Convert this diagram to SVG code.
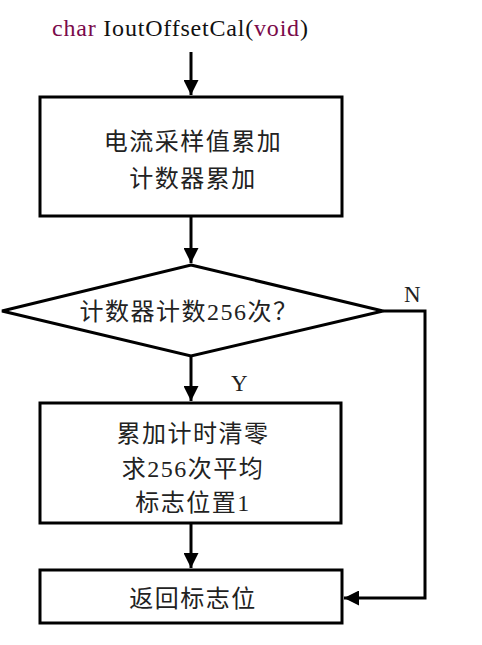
<svg xmlns="http://www.w3.org/2000/svg" width="482" height="645" viewBox="0 0 482 645">
<style>
.box{fill:#fff;stroke:#000;stroke-width:3}
.ln{fill:none;stroke:#000;stroke-width:3}
.t{font-family:"Liberation Serif","Noto Sans CJK SC",serif;font-size:24px;letter-spacing:1.5px;fill:#222;text-anchor:middle}
.lab{font-family:"Liberation Serif",serif;font-size:23px;fill:#222}
.kw{fill:#7a0a4a}
</style>
<defs>
<marker id="ah" viewBox="0 0 10 10" refX="10" refY="5" markerWidth="5" markerHeight="5" orient="auto" markerUnits="strokeWidth">
<path d="M0,0 L10,5 L0,10 z" fill="#000"/>
</marker>
</defs>
<rect width="482" height="645" fill="#fff"/>
<text x="52" y="36" font-family="Liberation Serif,serif" font-size="24" letter-spacing="0.8" fill="#111"><tspan class="kw">char</tspan> IoutOffsetCal(<tspan class="kw">void</tspan>)</text>
<g id="connectors">
<line class="ln" x1="191" y1="52" x2="191" y2="95" marker-end="url(#ah)"/>
<line class="ln" x1="191" y1="216" x2="191" y2="263" marker-end="url(#ah)"/>
<line class="ln" x1="191" y1="356" x2="191" y2="401" marker-end="url(#ah)"/>
<line class="ln" x1="191" y1="523" x2="191" y2="568" marker-end="url(#ah)"/>
<polyline class="ln" points="383,311 425,311 425,598 344,598" marker-end="url(#ah)"/>
<text class="lab" x="404" y="302">N</text>
<text class="lab" x="231" y="391">Y</text>
</g>
<g id="n1">
<rect class="box" x="40" y="97" width="302" height="119"/>
<text class="t" x="193" y="150">电流采样值累加</text>
<text class="t" x="193" y="187">计数器累加</text>
</g>
<g id="n2">
<polygon class="box" points="191,265 383,311 191,356 2,311"/>
<text class="t" x="189" y="320">计数器计数256次？</text>
</g>
<g id="n3">
<rect class="box" x="40" y="403" width="301" height="120"/>
<text class="t" x="193" y="442">累加计时清零</text>
<text class="t" x="193" y="477">求256次平均</text>
<text class="t" x="193" y="511">标志位置1</text>
</g>
<g id="n4">
<rect class="box" x="40" y="570" width="302" height="53"/>
<text class="t" x="193" y="607">返回标志位</text>
</g>
</svg>
